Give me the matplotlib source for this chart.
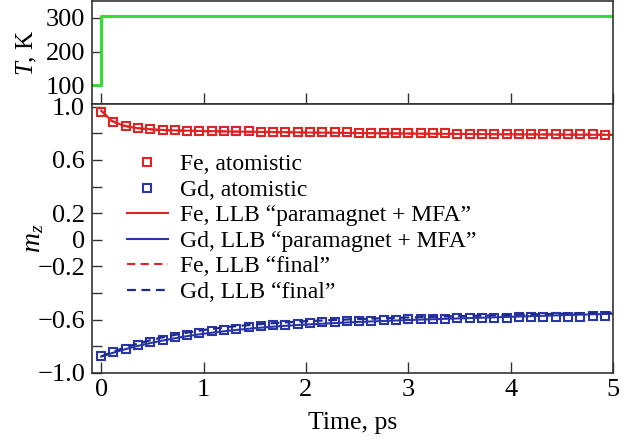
import numpy as np
import matplotlib
matplotlib.use("Agg")
import matplotlib.pyplot as plt
from matplotlib.ticker import FixedLocator, FixedFormatter

plt.rcParams['font.family'] = ['Liberation Serif', 'DejaVu Serif']
plt.rcParams['mathtext.fontset'] = 'custom'
plt.rcParams['mathtext.rm'] = 'Liberation Serif'
plt.rcParams['mathtext.it'] = 'Liberation Serif:italic'
plt.rcParams['font.size'] = 18

# temperature pulse
t_T = [-0.1, 0.0, 0.0, 5.0]
T_K = [100, 100, 305, 305]

# atomistic points, every 0.12 ps
t_atom = np.round(np.arange(42) * 0.12, 2)
fe_atom = [0.960, 0.885, 0.853, 0.838, 0.830, 0.825, 0.822, 0.820, 0.818, 0.817,
           0.816, 0.815, 0.814, 0.813, 0.812, 0.811, 0.810, 0.809, 0.808, 0.807,
           0.806, 0.805, 0.804, 0.803, 0.802, 0.801, 0.800, 0.800, 0.799, 0.798,
           0.797, 0.797, 0.796, 0.795, 0.795, 0.794, 0.793, 0.793, 0.792, 0.792,
           0.791, 0.790]
gd_atom = [-0.876, -0.846, -0.818, -0.793, -0.770, -0.750, -0.731, -0.715, -0.700, -0.688,
           -0.676, -0.666, -0.657, -0.649, -0.642, -0.636, -0.630, -0.625, -0.620, -0.616,
           -0.612, -0.609, -0.606, -0.603, -0.600, -0.598, -0.596, -0.594, -0.592, -0.590,
           -0.588, -0.587, -0.585, -0.584, -0.582, -0.581, -0.580, -0.578, -0.577, -0.576,
           -0.575, -0.574]

# LLB curves
t_llb = [0, 0.1, 0.2, 0.3, 0.4, 0.5, 0.6, 0.8, 1.0, 1.25, 1.5, 1.75, 2.0, 2.5, 3.0, 3.5, 4.0, 4.5, 5.0]
fe_para = [0.970, 0.895, 0.862, 0.845, 0.835, 0.829, 0.825, 0.820, 0.817, 0.814,
           0.811, 0.809, 0.806, 0.802, 0.798, 0.795, 0.792, 0.790, 0.788]
fe_final = [0.970, 0.893, 0.860, 0.844, 0.834, 0.828, 0.824, 0.819, 0.816, 0.813,
            0.810, 0.808, 0.806, 0.802, 0.798, 0.795, 0.793, 0.791, 0.789]
gd_para = [-0.876, -0.852, -0.829, -0.808, -0.789, -0.772, -0.756, -0.728, -0.705, -0.682,
           -0.663, -0.648, -0.636, -0.617, -0.602, -0.590, -0.578, -0.566, -0.555]
gd_final = [-0.876, -0.845, -0.817, -0.792, -0.770, -0.750, -0.732, -0.702, -0.677, -0.653,
            -0.636, -0.622, -0.611, -0.595, -0.583, -0.573, -0.564, -0.555, -0.546]

mz_ticks = [1.0, 0.8, 0.6, 0.4, 0.2, 0.0, -0.2, -0.4, -0.6, -0.8, -1.0]
mz_labels = ['1.0', '', '0.6', '', '0.2', '0', '\u22120.2', '', '\u22120.6', '', '\u22121.0']

red = '#e02424'
blue = '#2a36a8'
navy = '#1f2a8a'
green = '#33dd33'
spine_c = '#333333'

fig = plt.figure(figsize=(6.38, 4.41), dpi=100)
ax1 = fig.add_axes([0.1442, 0.7642, 0.8166, 0.2335])
ax2 = fig.add_axes([0.1442, 0.1542, 0.8166, 0.6100])

for ax in (ax1, ax2):
    for s in ax.spines.values():
        s.set_color(spine_c)
        s.set_linewidth(1.2)
    ax.tick_params(direction='in', color=spine_c, width=1.0, length=7,
                   top=False, right=False, labelsize=19)
    ax.tick_params(axis='x', length=8, pad=4)
    ax.tick_params(axis='y', pad=5)
    ax.set_xlim(-0.09, 5.0)
    ax.set_xticks([0, 1, 2, 3, 4, 5])

ax1.plot(t_T, T_K, color=green, lw=2.2)
ax1.set_ylim(45, 350)
ax1.set_yticks([100, 200, 300])
ax1.tick_params(axis='x', labelbottom=False)
ax1.set_ylabel('$T$, K')
ax1.yaxis.set_label_coords(-0.102, 0.5)

ax2.plot(t_atom, fe_atom, ls='none', marker='s', ms=6, mfc='none', mec=red, mew=1.5,
         label='Fe, atomistic')
ax2.plot(t_atom, gd_atom, ls='none', marker='s', ms=6, mfc='none', mec=blue, mew=1.5,
         label='Gd, atomistic')
ax2.plot(t_llb, fe_para, color=red, lw=1.5, label='Fe, LLB \u201cparamagnet + MFA\u201d')
ax2.plot(t_llb, gd_para, color=blue, lw=1.5, label='Gd, LLB \u201cparamagnet + MFA\u201d')
ax2.plot(t_llb, fe_final, color=red, lw=1.5, ls=(0, (4, 2.5)), label='Fe, LLB \u201cfinal\u201d')
ax2.plot(t_llb, gd_final, color=navy, lw=1.6, ls=(0, (4, 2.5)), label='Gd, LLB \u201cfinal\u201d')

ax2.set_ylim(-1.0, 1.02)
ax2.yaxis.set_major_locator(FixedLocator(mz_ticks))
ax2.yaxis.set_major_formatter(FixedFormatter(mz_labels))
ax2.set_ylabel('$m_z$', fontsize=20)
ax2.yaxis.set_label_coords(-0.088, 0.5)
ax2.set_xlabel('Time, ps', fontsize=18.5)
ax2.xaxis.set_label_coords(0.50, -0.145)

ax2.legend(loc='upper left', bbox_to_anchor=(0.067, 0.815), frameon=False,
           borderpad=0, borderaxespad=0, labelspacing=0.17, handlelength=1.74,
           handletextpad=0.5, fontsize=17)

fig.savefig('out.png', dpi=100)
